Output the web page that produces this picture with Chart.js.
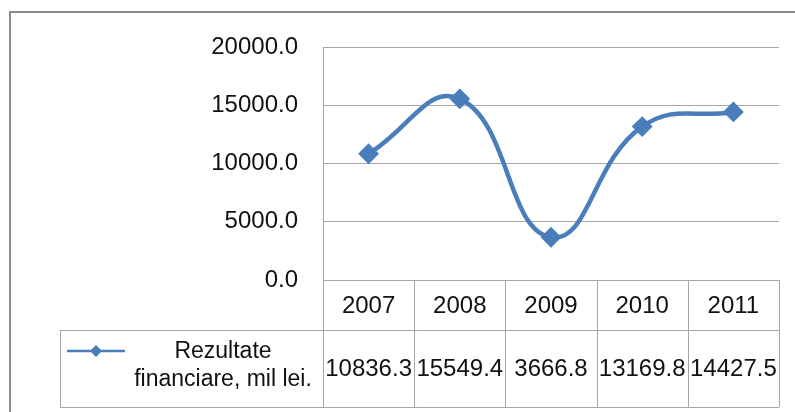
<!DOCTYPE html>
<html>
<head>
<meta charset="utf-8">
<script src="https://cdn.jsdelivr.net/npm/chart.js@4.4.1/dist/chart.umd.min.js"></script>
<style>
  body { margin: 0; background: #fff; }
  #wrap { width: 795px; height: 412px; position: relative; }
</style>
</head>
<body>
<div id="wrap"><canvas id="chart"></canvas></div>
<script>
// data
const years = ['2007', '2008', '2009', '2010', '2011'];
const rezultate = [10836.3, 15549.4, 3666.8, 13169.8, 14427.5];
const seriesName = ['Rezultate', 'financiare, mil lei.'];
const yTicks = [0, 5000, 10000, 15000, 20000];

const lineColor = '#4a7ebb';
const gridColor = '#a6a6a6';
const font = "'Liberation Sans', Arial, sans-serif";

// outer frame + data table under the plot
const tablePlugin = {
  id: 'dataTable',
  beforeDraw(chart) {
    const ctx = chart.ctx;
    ctx.save();
    ctx.strokeStyle = '#8c8c8c';
    ctx.lineWidth = 2;
    ctx.beginPath();
    ctx.moveTo(10, 412);
    ctx.lineTo(10, 12);
    ctx.lineTo(795, 12);
    ctx.stroke();
    ctx.restore();
  },
  afterDraw(chart) {
    const ctx = chart.ctx;
    const x = chart.scales.x;
    const area = chart.chartArea;
    const colW = (area.right - area.left) / years.length;
    const top = area.bottom, mid = area.bottom + 50, bot = area.bottom + 127;
    const legLeft = 60;

    ctx.save();
    ctx.strokeStyle = gridColor;
    ctx.lineWidth = 1;
    ctx.beginPath();
    // horizontal lines
    ctx.moveTo(area.left, top + 0.5); ctx.lineTo(area.right, top + 0.5);
    ctx.moveTo(legLeft, mid + 0.5); ctx.lineTo(area.right, mid + 0.5);
    ctx.moveTo(legLeft, bot + 0.5); ctx.lineTo(area.right, bot + 0.5);
    // vertical lines
    ctx.moveTo(legLeft + 0.5, mid); ctx.lineTo(legLeft + 0.5, bot);
    ctx.moveTo(area.left + 0.5, top); ctx.lineTo(area.left + 0.5, bot);
    for (let i = 1; i <= years.length; i++) {
      const xx = Math.round(area.left + i * colW) + 0.5;
      ctx.moveTo(xx, top); ctx.lineTo(xx, bot);
    }
    ctx.stroke();

    ctx.fillStyle = '#111';
    ctx.font = '24px ' + font;
    ctx.textAlign = 'center';
    ctx.textBaseline = 'middle';
    years.forEach((yr, i) => {
      const cx = x.getPixelForValue(i);
      ctx.fillText(yr, cx, (top + mid) / 2 + 1);
      ctx.fillText(rezultate[i].toFixed(1), cx, (mid + bot) / 2 + 1);
    });

    // legend key
    ctx.font = '23px ' + font;
    ctx.fillText(seriesName[0], 223, mid + 22);
    ctx.fillText(seriesName[1], 223, mid + 50);

    ctx.strokeStyle = lineColor;
    ctx.lineWidth = 2.5;
    ctx.beginPath();
    ctx.moveTo(67, mid + 21); ctx.lineTo(125, mid + 21);
    ctx.stroke();
    ctx.fillStyle = lineColor;
    ctx.beginPath();
    ctx.moveTo(96, mid + 15); ctx.lineTo(102, mid + 21);
    ctx.lineTo(96, mid + 27); ctx.lineTo(90, mid + 21);
    ctx.closePath();
    ctx.fill();
    ctx.restore();
  }
};

new Chart(document.getElementById('chart'), {
  type: 'line',
  data: {
    labels: years,
    datasets: [{
      label: seriesName.join(' '),
      data: rezultate,
      borderColor: lineColor,
      backgroundColor: lineColor,
      borderWidth: 4.5,
      tension: 0.45,
      pointStyle: 'rectRot',
      pointRadius: 9,
      pointBorderWidth: 2,
      pointBackgroundColor: lineColor,
      pointBorderColor: lineColor,
      clip: false
    }]
  },
  options: {
    responsive: true,
    maintainAspectRatio: false,
    animation: false,
    layout: { padding: { left: 0, top: 47, right: 16, bottom: 132 } },
    plugins: { legend: { display: false }, tooltip: { enabled: false } },
    scales: {
      x: { display: false, offset: true },
      y: {
        min: 0, max: 20000,
        afterBuildTicks(scale) { scale.ticks = yTicks.map(v => ({ value: v })); },
        afterFit(scale) { scale.width = 323; },
        grid: { color: gridColor, lineWidth: 1, drawTicks: false },
        border: { display: true, color: gridColor, width: 1 },
        ticks: {
          padding: 25,
          color: '#111',
          font: { family: font, size: 24 },
          callback: v => Number(v).toFixed(1)
        }
      }
    }
  },
  plugins: [tablePlugin]
});
</script>
</body>
</html>
